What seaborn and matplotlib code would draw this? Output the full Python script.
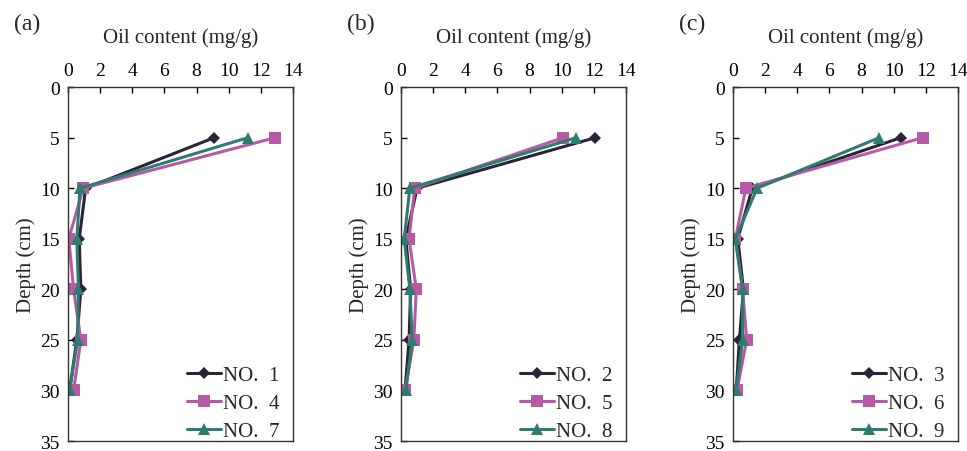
import pandas as pd
import numpy as np
import matplotlib
matplotlib.use("Agg")
import matplotlib.pyplot as plt
import seaborn as sns

sns.set_style("ticks")
plt.rcParams['font.family'] = ['Liberation Serif', 'DejaVu Serif']

depth = [5, 10, 15, 20, 25, 30]

# oil content (mg/g) per sample
no1 = [9.1, 1.1, 0.7, 0.8, 0.55, 0.1]
no4 = [12.9, 0.95, 0.05, 0.35, 0.8, 0.35]
no7 = [11.2, 0.75, 0.55, 0.65, 0.6, 0.1]

no2 = [12.1, 1.0, 0.3, 0.6, 0.5, 0.25]
no5 = [10.1, 0.85, 0.5, 0.95, 0.8, 0.25]
no8 = [10.9, 0.55, 0.2, 0.55, 0.7, 0.3]

no3 = [10.45, 1.2, 0.3, 0.65, 0.4, 0.2]
no6 = [11.8, 0.8, 0.15, 0.6, 0.85, 0.25]
no9 = [9.1, 1.5, 0.15, 0.6, 0.6, 0.2]

panels = [
    ("(a)", ["NO.  1", "NO.  4", "NO.  7"], [no1, no4, no7]),
    ("(b)", ["NO.  2", "NO.  5", "NO.  8"], [no2, no5, no8]),
    ("(c)", ["NO.  3", "NO.  6", "NO.  9"], [no3, no6, no9]),
]

colors = ["#2b2338", "#b65aa6", "#2f7b70"]
markers = ["D", "s", "^"]
msizes = [6, 8, 8]

fig = plt.figure(figsize=(9.67, 4.52), dpi=100)
lefts = [0.0703, 0.4147, 0.758]

for left, (tag, names, series) in zip(lefts, panels):
    ax = fig.add_axes([left, 0.0221, 0.2327, 0.783])
    rows = []
    for name, vals in zip(names, series):
        for d, v in zip(depth, vals):
            rows.append({"sample": name, "oil": v, "depth": d})
    df = pd.DataFrame(rows)

    sns.lineplot(data=df, x="oil", y="depth", hue="sample", style="sample",
                 palette=colors, markers=markers, dashes=False, orient="y",
                 linewidth=2.2, markeredgewidth=0, ax=ax)
    for line, ms in zip(ax.get_lines(), msizes):
        line.set_markersize(ms)

    ax.set_xlim(0, 14)
    ax.set_ylim(35, 0)
    ax.set_xticks(range(0, 15, 2))
    ax.set_yticks(range(0, 36, 5))
    ax.xaxis.tick_top()
    ax.xaxis.set_label_position("top")
    ax.tick_params(axis="both", direction="in", length=4, width=1,
                   labelsize=14, colors="black", pad=6)
    ax.tick_params(axis="x", top=True, bottom=False)
    ax.tick_params(axis="y", left=True, right=False)
    for sp in ax.spines.values():
        sp.set_linewidth(1)
        sp.set_color("#333333")
    ax.set_xlabel("Oil content (mg/g)", fontsize=15, labelpad=14)
    ax.set_ylabel("Depth (cm)", fontsize=15, labelpad=3)

    handles, labels = ax.get_legend_handles_labels()
    for h, ms in zip(handles, msizes):
        h.set_markersize(ms)
    ax.legend(handles, labels, loc="lower right", bbox_to_anchor=(0.995, -0.035),
              frameon=False, fontsize=15, handlelength=1.6, handletextpad=0.1,
              labelspacing=0.4, borderaxespad=0.2)

    fig.text(left - 0.056, 0.945, tag, fontsize=17, ha="left", va="center")

fig.savefig("out.png", dpi=100)
